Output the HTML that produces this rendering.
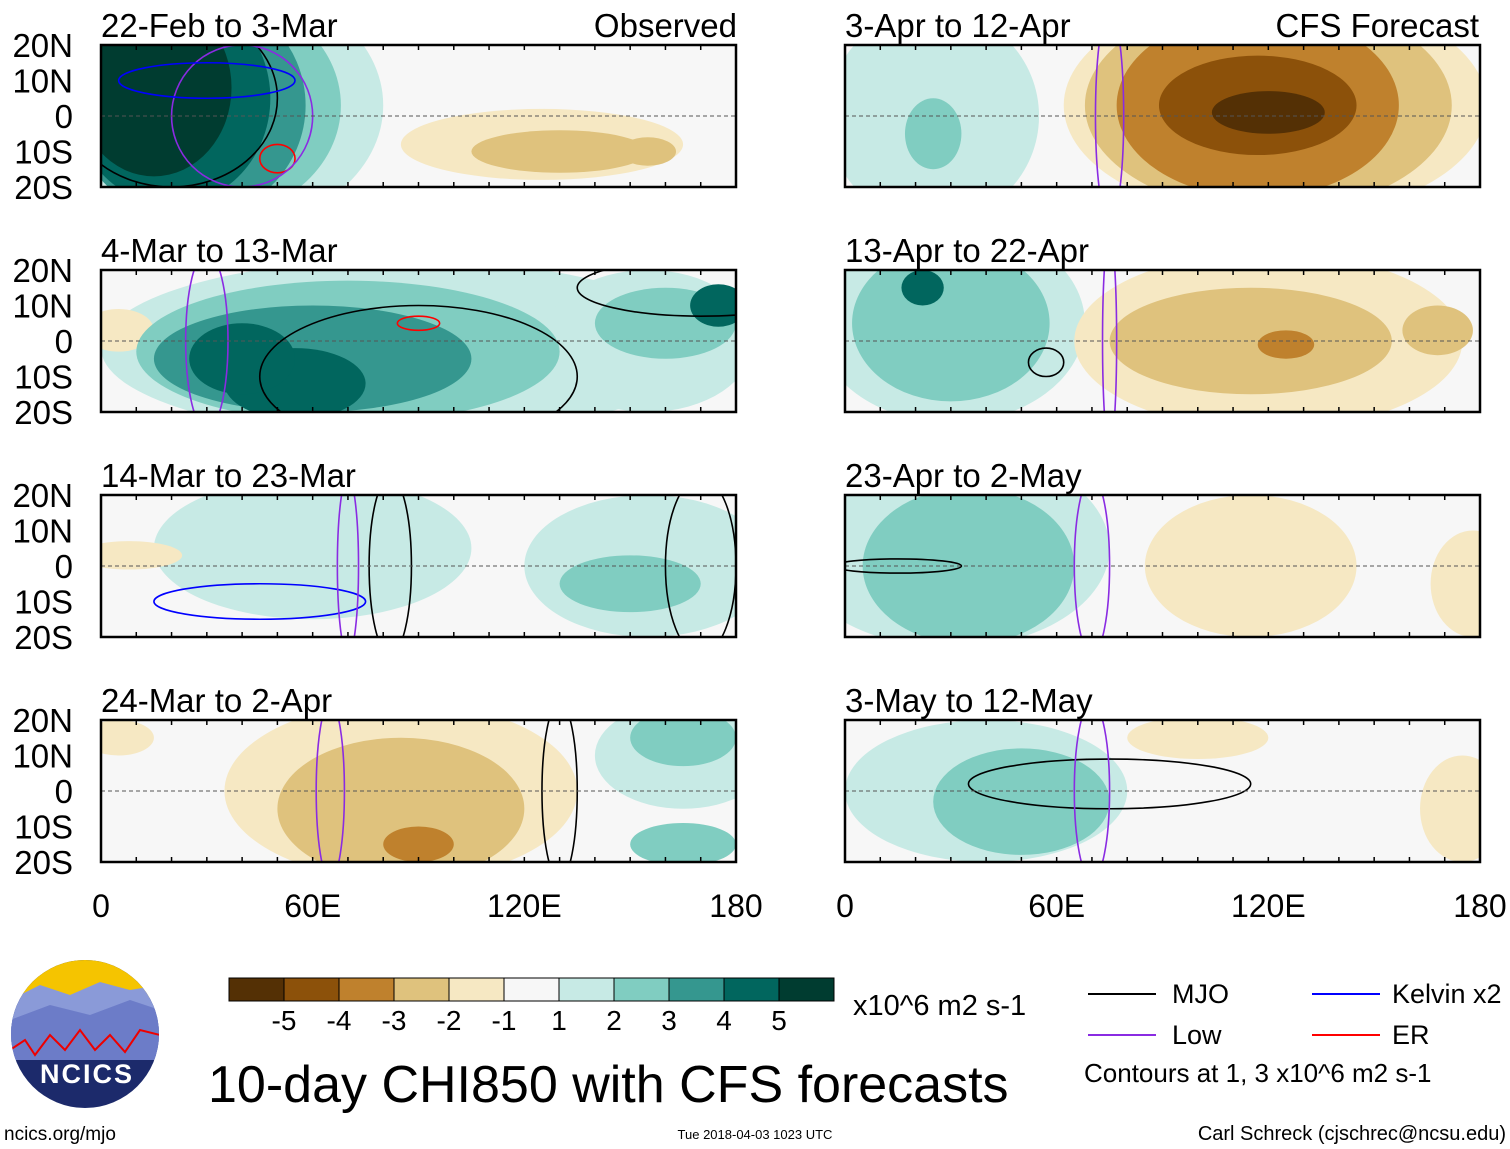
<!DOCTYPE html>
<html><head><meta charset="utf-8"><style>
body{margin:0;background:#fff;width:1510px;height:1149px;overflow:hidden;font-family:"Liberation Sans",sans-serif}
svg{position:absolute;left:0;top:0}
</style></head><body>
<svg id="c" width="1510" height="1149"></svg>
<script>
const colors=['#543005','#8c510a','#bf812d','#dfc27d','#f6e8c3','#f7f7f7','#c7eae5','#80cdc1','#35978f','#01665e','#003c30'];
const cbLabels=['-5','-4','-3','-2','-1','1','2','3','4','5'];
const latTicks=['20N','10N','0','10S','20S'];
const latVals=[20,10,0,-10,-20];
const lonTicks=['0','60E','120E','180'];
const lonVals=[0,60,120,180];
const titles=['22-Feb to 3-Mar','3-Apr to 12-Apr','4-Mar to 13-Mar','13-Apr to 22-Apr','14-Mar to 23-Mar','23-Apr to 2-May','24-Mar to 2-Apr','3-May to 12-May'];
const blobs=[
[[35,3,45,35,1],[30,3,38,32,2],[25,3,33,32,3],[20,5,28,30,4],[15,8,22,25,5],[125,-8,40,10,-1],[130,-10,25,6,-2],[155,-10,8,4,-2]],
[[25,0,30,30,1],[25,-5,8,10,2],[122,3,60,32,-1],[120,3,52,30,-2],[117,3,40,26,-3],[117,3,28,14,-4],[120,1,16,6,-5]],
[[85,-2,85,25,1],[70,-3,60,20,2],[60,-5,45,15,3],[55,-12,20,10,4],[40,-5,15,10,4],[155,0,30,20,1],[160,5,20,10,2],[175,10,8,6,4],[5,3,10,6,-1]],
[[30,5,38,28,1],[30,5,28,22,2],[22,15,6,5,4],[120,0,55,25,-1],[115,0,40,15,-2],[125,-1,8,4,-3],[168,3,10,7,-2]],
[[60,5,45,20,1],[155,0,35,20,1],[150,-5,20,8,2],[8,3,15,4,-1]],
[[30,5,45,28,1],[35,0,30,22,2],[115,0,30,20,-1],[178,-5,12,15,-1]],
[[85,0,50,25,-1],[85,-5,35,20,-2],[90,-15,10,5,-3],[5,15,10,5,-1],[165,10,25,15,1],[165,15,15,8,2],[165,-15,15,6,2]],
[[40,0,40,20,1],[50,-3,25,15,2],[100,15,20,6,-1],[175,-5,12,15,-1]]];
const contours=[
[[20,5,30,25,'#000'],[50,-12,5,4,'#f00'],[40,0,20,20,'#8a2be2'],[30,10,25,5,'#00f']],
[[75,0,4,30,'#8a2be2']],
[[90,-10,45,20,'#000'],[90,5,6,2,'#f00'],[170,15,35,8,'#000'],[30,0,6,25,'#8a2be2']],
[[57,-6,5,4,'#000'],[75,0,2,30,'#8a2be2']],
[[45,-10,30,5,'#00f'],[82,0,6,25,'#000'],[170,0,10,25,'#000'],[70,0,3,25,'#8a2be2']],
[[15,0,18,2,'#000'],[70,0,5,25,'#8a2be2']],
[[130,0,5,25,'#000'],[65,0,4,25,'#8a2be2']],
[[75,2,40,7,'#000'],[70,0,5,25,'#8a2be2']]];
const NS='http://www.w3.org/2000/svg';
const svg=document.getElementById('c');
function mk(t,a,p){const e=document.createElementNS(NS,t);for(const k in a)e.setAttribute(k,a[k]);(p||svg).appendChild(e);return e;}
const colX=[101,845],rowY=[45,270,495,720],PW=635,PH=142;
for(let i=0;i<8;i++){
 const x0=colX[i%2],y0=rowY[Math.floor(i/2)];
 const X=lon=>x0+lon/180*PW, Y=lat=>y0+(20-lat)/40*PH;
 const g=mk('g',{});
 
 
 mk('clipPath',{id:'cp'+i},g);
 mk('rect',{x:x0,y:y0,width:PW,height:PH},g.lastChild);
 const inner=mk('g',{'clip-path':'url(#cp'+i+')'},g);
 mk('rect',{x:x0,y:y0,width:PW,height:PH,fill:'#f7f7f7'},inner);
 const bl=blobs[i].slice().sort((a,b)=>Math.abs(a[4])-Math.abs(b[4]));
 bl.forEach(b=>{const e=mk('ellipse',{cx:X(b[0]),cy:Y(b[1]),rx:b[2]/180*PW,ry:b[3]/40*PH,fill:colors[5+b[4]]},inner);
  });
 contours[i].forEach(c=>{const e=mk('ellipse',{cx:X(c[0]),cy:Y(c[1]),rx:c[2]/180*PW,ry:c[3]/40*PH,fill:'none',stroke:c[4],'stroke-width':1.6},inner);
  });
 mk('line',{x1:x0,x2:x0+PW,y1:Y(0),y2:Y(0),stroke:'#555','stroke-dasharray':'4,3','stroke-width':1},inner);
 mk('rect',{x:x0,y:y0,width:PW,height:PH,fill:'none',stroke:'#000','stroke-width':2.5},g);
 for(let l=0;l<=180;l+=10){mk('line',{x1:X(l),x2:X(l),y1:y0,y2:y0+5,stroke:'#000','stroke-width':1.5},g);mk('line',{x1:X(l),x2:X(l),y1:y0+PH,y2:y0+PH-5,stroke:'#000','stroke-width':1.5},g);}
 const t=mk('text',{x:x0,y:y0-8,'font-size':33,fill:'#000'},g);t.textContent=titles[i];
 
 if(i%2==0){latVals.forEach((v,k)=>{const tt=mk('text',{x:73,y:Y(v)+12,'font-size':33,'text-anchor':'end'},g);tt.textContent=latTicks[k];
  });}
}
[['Observed',737,37],['CFS Forecast',1479,37]].forEach(a=>{const t=mk('text',{x:a[1],y:a[2],'font-size':33,'text-anchor':'end'});t.textContent=a[0];
 });
colX.forEach(x0=>lonVals.forEach((v,k)=>{const t=mk('text',{x:x0+v/180*PW,y:917,'font-size':32,'text-anchor':'middle'});t.textContent=lonTicks[k];
 }));
const cbx=229,cbw=55;
colors.forEach((c,k)=>{const r=mk('rect',{x:cbx+k*cbw,y:978,width:cbw,height:23,fill:c,stroke:'#000','stroke-width':1});
 });
cbLabels.forEach((l,k)=>{const t=mk('text',{x:cbx+(k+1)*cbw,y:1030,'font-size':28,'text-anchor':'middle'});t.textContent=l;
 });
function txt(s,x,y,fs,name,anchor){const t=mk('text',{x:x,y:y,'font-size':fs,'text-anchor':anchor||'start'});t.textContent=s;return t;}
txt('x10^6 m2 s-1',853,1015,29,'colorbar-units');
txt('10-day CHI850 with CFS forecasts',208,1102,52,'figure-title');
[['MJO','#000',1088,1172,1003],['Low','#8a2be2',1088,1172,1044],['Kelvin x2','#00f',1312,1392,1003],['ER','#f00',1312,1392,1044]].forEach(a=>{
 const l=mk('line',{x1:a[2],x2:a[2]+68,y1:a[4]-9,y2:a[4]-9,stroke:a[1],'stroke-width':2});
 txt(a[0],a[3],a[4],27,'legend-entry');});
txt('Contours at 1, 3 x10^6 m2 s-1',1084,1082,26,'contour-note');
txt('ncics.org/mjo',4,1140,19,'site-url');
txt('Tue 2018-04-03 1023 UTC',755,1139,13,'timestamp','middle');
txt('Carl Schreck (cjschrec@ncsu.edu)',1506,1140,20,'author-credit','end');
const lg=mk('g',{});
mk('clipPath',{id:'lc'},lg);mk('circle',{cx:85,cy:1034,r:74},lg.lastChild);
const li=mk('g',{'clip-path':'url(#lc)'},lg);
mk('rect',{x:0,y:958,width:170,height:160,fill:'#1c2a6b'},li);
mk('rect',{x:0,y:958,width:170,height:40,fill:'#f5c400'},li);
mk('path',{d:'M10 1000 L40 985 L70 995 L100 982 L130 990 L160 985 L160 1060 L10 1060Z',fill:'#8a9ad8'},li);
mk('path',{d:'M10 1020 L50 1005 L90 1015 L130 1000 L160 1010 L160 1060 L10 1060Z',fill:'#6c7cc8'},li);
mk('path',{d:'M10 1050 L25 1040 L35 1055 L50 1035 L65 1050 L80 1030 L95 1050 L110 1035 L125 1052 L140 1030 L160 1035',fill:'none',stroke:'#e00','stroke-width':2},li);
const lt=mk('text',{x:87,y:1083,'font-size':27,'font-weight':'bold',fill:'#fff','text-anchor':'middle','letter-spacing':'2'},lg);lt.textContent='NCICS';
</script>
</body></html>
